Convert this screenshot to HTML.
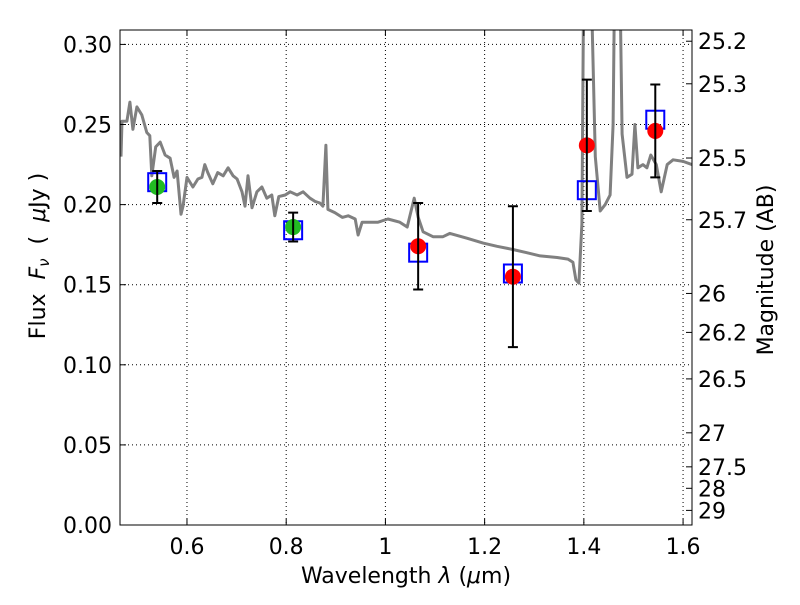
<!DOCTYPE html>
<html><head><meta charset="utf-8"><style>
body{margin:0;background:#fff}
svg text{font-family:"DejaVu Sans","Liberation Sans",sans-serif;fill:#000}
</style></head><body>
<svg id="chart" width="800" height="600" xmlns="http://www.w3.org/2000/svg">
<rect width="800" height="600" fill="#fff"/>
<defs><clipPath id="clip"><rect x="120" y="30" width="572" height="495"/></clipPath></defs>
<g id="grid"></g>
<g id="spec" clip-path="url(#clip)"></g>
<g id="marks"></g>
<rect x="120" y="30" width="572" height="495" fill="none" stroke="#000" stroke-width="1"/>
<g id="axes"></g>
<text x="406" y="583" font-size="22" text-anchor="middle">Wavelength  <tspan font-style="italic">λ</tspan> (<tspan font-style="italic">μ</tspan>m)</text>
<text transform="translate(45,256) rotate(-90)" font-size="22" text-anchor="middle" xml:space="preserve">Flux  <tspan font-style="italic">F</tspan><tspan font-style="italic" font-size="15" dy="4">ν</tspan><tspan dy="-4">  (  </tspan><tspan font-style="italic">μ</tspan>Jy )</text>
<text transform="translate(773,270) rotate(-90)" font-size="22" text-anchor="middle">Magnitude (AB)</text>
</svg>
<script>
const xTicks=[0.6,0.8,1.0,1.2,1.4,1.6];
const xTickLabels=["0.6","0.8","1","1.2","1.4","1.6"];
const yTicks=[0,0.05,0.10,0.15,0.20,0.25,0.30];
const yTickLabels=["0.00","0.05","0.10","0.15","0.20","0.25","0.30"];
const magTicks=[25.2,25.3,25.5,25.7,26,26.2,26.5,27,27.5,28,29];
const magLabels=["25.2","25.3","25.5","25.7","26","26.2","26.5","27","27.5","28","29"];
const specLam=[0.467,0.469,0.479,0.485,0.491,0.499,0.509,0.519,0.525,0.529,0.537,0.546,0.556,0.566,0.574,0.580,0.588,0.592,0.600,0.612,0.622,0.630,0.636,0.642,0.652,0.662,0.673,0.683,0.693,0.701,0.711,0.717,0.723,0.731,0.741,0.751,0.761,0.771,0.777,0.785,0.798,0.808,0.822,0.834,0.848,0.858,0.868,0.874,0.880,0.884,0.898,0.913,0.925,0.939,0.945,0.953,0.965,0.985,1.005,1.029,1.044,1.058,1.066,1.076,1.096,1.116,1.130,1.165,1.197,1.225,1.257,1.285,1.312,1.346,1.368,1.378,1.384,1.390,1.396,1.400,1.410,1.423,1.433,1.443,1.453,1.459,1.464,1.470,1.477,1.487,1.497,1.503,1.509,1.519,1.527,1.535,1.546,1.556,1.568,1.580,1.600,1.618];
const specFlux=[0.230,0.252,0.252,0.264,0.247,0.261,0.256,0.245,0.243,0.218,0.236,0.239,0.231,0.229,0.217,0.221,0.194,0.199,0.217,0.211,0.216,0.217,0.225,0.220,0.213,0.220,0.218,0.223,0.218,0.216,0.208,0.199,0.218,0.198,0.208,0.211,0.204,0.206,0.193,0.205,0.206,0.208,0.206,0.208,0.204,0.202,0.201,0.199,0.237,0.197,0.195,0.192,0.193,0.191,0.181,0.189,0.189,0.189,0.191,0.189,0.186,0.204,0.192,0.183,0.180,0.180,0.182,0.179,0.176,0.174,0.172,0.170,0.168,0.167,0.166,0.164,0.153,0.151,0.188,0.36,0.40,0.23,0.196,0.200,0.206,0.250,0.40,0.40,0.244,0.217,0.219,0.250,0.223,0.225,0.223,0.231,0.225,0.208,0.225,0.228,0.227,0.225];
const obsLam=[0.540,0.814,1.066,1.257,1.406,1.544];
const obsFlux=[0.211,0.186,0.174,0.155,0.237,0.246];
const obsErr=[0.010,0.009,0.027,0.044,0.041,0.029];
const obsColor=["#22bb22","#22bb22","#ff0000","#ff0000","#ff0000","#ff0000"];
const modelFlux=[0.214,0.184,0.170,0.157,0.209,0.253];

const X0=120,X1=692,Y0=525,Y1=30,xmin=0.465,xmax=1.618,ymin=0,ymax=0.309;
const sx=v=>X0+(v-xmin)/(xmax-xmin)*(X1-X0);
const sy=v=>Y0-(v-ymin)/(ymax-ymin)*(Y0-Y1);
const NS="http://www.w3.org/2000/svg";
function mk(tag,attrs,parent){const e=document.createElementNS(NS,tag);for(const k in attrs)e.setAttribute(k,attrs[k]);document.getElementById(parent).appendChild(e);return e;}
xTicks.forEach((t,i)=>{const x=sx(t);
 const g=mk('line',{x1:x,x2:x,y1:Y1,y2:Y0,stroke:'#000','stroke-dasharray':'1,3','stroke-width':1},'grid');
 
 
 const tk=mk('line',{x1:x,x2:x,y1:Y0,y2:Y0-6,stroke:'#000'},'axes');
 
 
 const tt=mk('line',{x1:x,x2:x,y1:Y1,y2:Y1+6,stroke:'#000'},'axes');
 
 
 const l=mk('text',{x:x,y:554,'font-size':22,'text-anchor':'middle'},'axes');l.textContent=xTickLabels[i];
 
 
});
yTicks.forEach((t,i)=>{const y=sy(t);
 const g=mk('line',{x1:X0,x2:X1,y1:y,y2:y,stroke:'#000','stroke-dasharray':'1,3','stroke-width':1},'grid');
 
 
 const tk=mk('line',{x1:X0,x2:X0+6,y1:y,y2:y,stroke:'#000'},'axes');
 
 
 const l=mk('text',{x:112,y:y+8,'font-size':22,'text-anchor':'end'},'axes');l.textContent=yTickLabels[i];
 
 
});
magTicks.forEach((m,i)=>{const f=Math.pow(10,(23.9-m)/2.5);const y=sy(f);
 const tk=mk('line',{x1:X1,x2:X1-6,y1:y,y2:y,stroke:'#000'},'axes');
 
 
 const l=mk('text',{x:698,y:y+8,'font-size':22},'axes');l.textContent=magLabels[i];
 
 
});
const pts=specLam.map((l,i)=>sx(l).toFixed(1)+','+sy(specFlux[i]).toFixed(1)).join(' ');
const sp=mk('polyline',{points:pts,fill:'none',stroke:'#808080','stroke-width':3,'stroke-linejoin':'round'},'spec');


obsLam.forEach((l,i)=>{const x=sx(l);
 const b=mk('rect',{x:x-9,y:sy(modelFlux[i])-9,width:18,height:18,fill:'none',stroke:'#0000ff','stroke-width':2},'marks');
 
 
 const c=mk('circle',{cx:x,cy:sy(obsFlux[i]),r:8,fill:obsColor[i]},'marks');
 
 
 const yt=sy(obsFlux[i]+obsErr[i]),yb=sy(obsFlux[i]-obsErr[i]);
 const e=mk('path',{d:`M${x},${yt}V${yb}M${x-5},${yt}H${x+5}M${x-5},${yb}H${x+5}`,stroke:'#000','stroke-width':2,fill:'none'},'marks');
 
 
});
</script>
</body></html>
